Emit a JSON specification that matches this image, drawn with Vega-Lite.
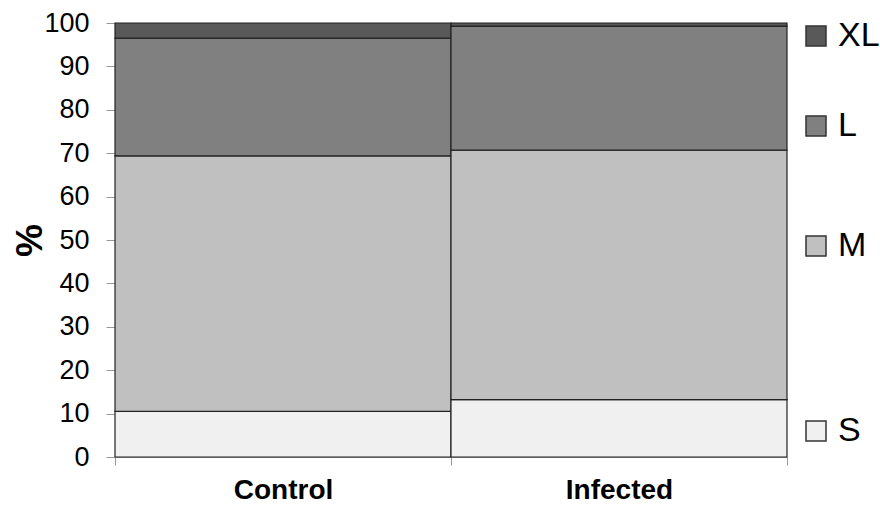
{
  "$schema": "https://vega.github.io/schema/vega-lite/v6.json",
  "width": 672,
  "height": 434,
  "autosize": "none",
  "padding": {"left": 115, "top": 23, "right": 93, "bottom": 49},
  "background": "white",
  "config": {
    "view": {"stroke": null},
    "font": "Liberation Sans",
    "legend": {"padding": 0, "orient": "none", "labelFont": "Liberation Sans", "labelFontSize": 34, "labelColor": "black", "symbolType": "square", "symbolSize": 400, "labelOffset": 5, "title": null}
  },
  "data": {
    "values": [
      {"group": "Control", "size": "S", "pct": 10.5},
      {"group": "Control", "size": "M", "pct": 58.9},
      {"group": "Control", "size": "L", "pct": 27.1},
      {"group": "Control", "size": "XL", "pct": 3.5},
      {"group": "Infected", "size": "S", "pct": 13.2},
      {"group": "Infected", "size": "M", "pct": 57.5},
      {"group": "Infected", "size": "L", "pct": 28.6},
      {"group": "Infected", "size": "XL", "pct": 0.7}
    ]
  },
  "layer": [
    {
      "transform": [{"calculate": "indexof(['S','M','L','XL'], datum.size)", "as": "rank"}],
      "mark": {"type": "bar", "stroke": "#222222", "strokeWidth": 1.2},
      "encoding": {
        "x": {
          "field": "group", "type": "nominal",
          "scale": {"paddingInner": 0, "paddingOuter": 0},
          "axis": {"title": null, "labelAngle": 0, "labelFontWeight": "bold", "labelFontSize": 28, "labelColor": "black", "labelBaseline": "alphabetic", "labelPadding": 33, "tickBand": "extent", "tickSize": 8, "tickColor": "#999999", "domainColor": "#999999"}
        },
        "y": {
          "field": "pct", "type": "quantitative", "stack": "zero",
          "scale": {"domain": [0, 100], "nice": false},
          "axis": {"title": "%", "titleFontSize": 37, "titleFontWeight": "bold", "titleColor": "black", "titleAngle": -90, "titleX": -85, "titleY": 217, "titleAlign": "center", "titleBaseline": "middle", "values": [0,10,20,30,40,50,60,70,80,90,100], "grid": false, "tickSize": 9, "tickColor": "#999999", "domainColor": "#999999", "labelFontSize": 27, "labelColor": "black", "labelPadding": 17}
        },
        "color": {"field": "size", "type": "nominal", "scale": {"domain": ["S", "M", "L", "XL"], "range": ["#f0f0f0", "#c0c0c0", "#808080", "#595959"]}, "legend": null},
        "order": {"field": "rank", "type": "quantitative", "sort": "ascending"}
      }
    },
    {
      "transform": [{"filter": "datum.size === 'XL' && datum.group === 'Control'"}],
      "mark": {"type": "square", "opacity": 0},
      "encoding": {
        "color": {"field": "size", "type": "nominal", "scale": {"domain": ["XL"], "range": ["#595959"]},
          "legend": {"legendX": 684, "legendY": -4, "encode": {"symbols": {"update": {"stroke": {"value": "#333333"}, "strokeWidth": {"value": 1.5}, "opacity": {"value": 1}}}}}}
      }
    },
    {
      "transform": [{"filter": "datum.size === 'L' && datum.group === 'Control'"}],
      "mark": {"type": "square", "opacity": 0},
      "encoding": {
        "color": {"field": "size", "type": "nominal", "scale": {"domain": ["L"], "range": ["#808080"]},
          "legend": {"legendX": 684, "legendY": 86, "encode": {"symbols": {"update": {"stroke": {"value": "#333333"}, "strokeWidth": {"value": 1.5}, "opacity": {"value": 1}}}}}}
      }
    },
    {
      "transform": [{"filter": "datum.size === 'M' && datum.group === 'Control'"}],
      "mark": {"type": "square", "opacity": 0},
      "encoding": {
        "color": {"field": "size", "type": "nominal", "scale": {"domain": ["M"], "range": ["#c0c0c0"]},
          "legend": {"legendX": 684, "legendY": 206, "encode": {"symbols": {"update": {"stroke": {"value": "#333333"}, "strokeWidth": {"value": 1.5}, "opacity": {"value": 1}}}}}}
      }
    },
    {
      "transform": [{"filter": "datum.size === 'S' && datum.group === 'Control'"}],
      "mark": {"type": "square", "opacity": 0},
      "encoding": {
        "color": {"field": "size", "type": "nominal", "scale": {"domain": ["S"], "range": ["#f0f0f0"]},
          "legend": {"legendX": 684, "legendY": 391, "encode": {"symbols": {"update": {"stroke": {"value": "#333333"}, "strokeWidth": {"value": 1.5}, "opacity": {"value": 1}}}}}}
      }
    }
  ],
  "resolve": {"scale": {"color": "independent"}, "legend": {"color": "independent"}}
}
